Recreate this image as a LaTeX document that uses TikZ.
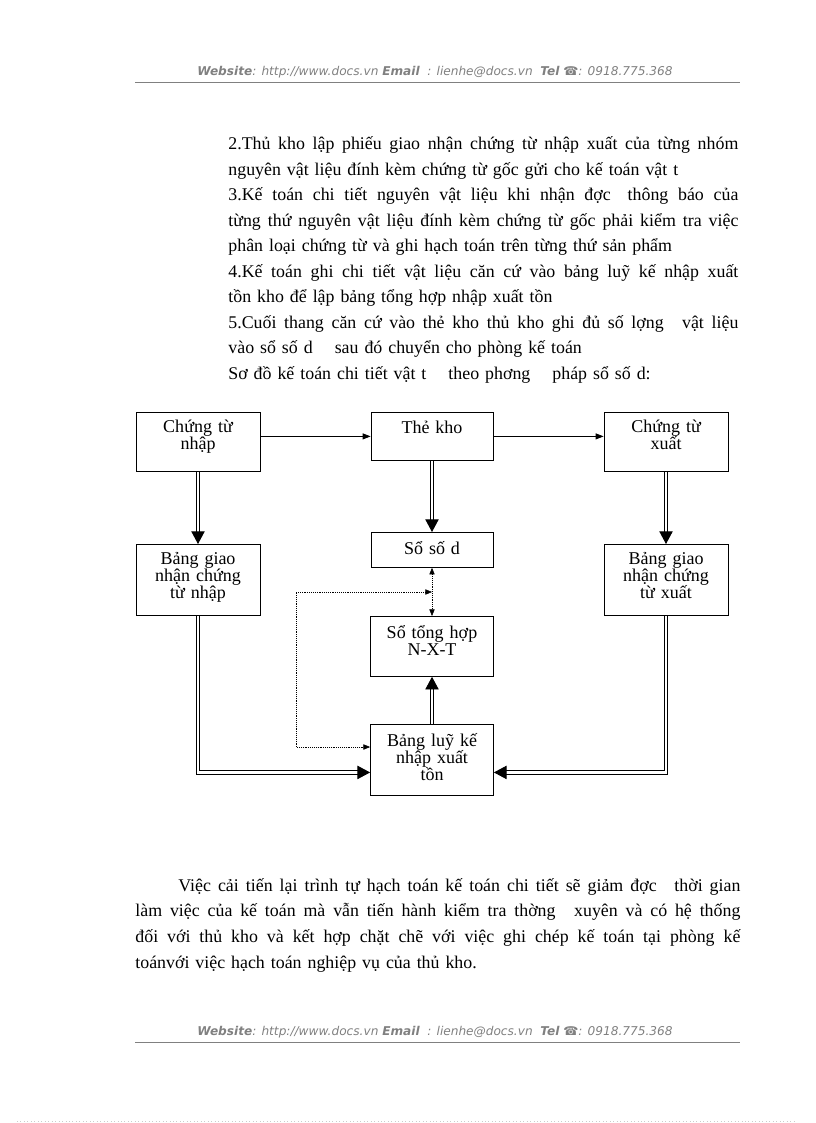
\documentclass[tikz,border=0pt]{standalone}
\usepackage{fontspec}
\setmainfont{Liberation Serif}
\newfontfamily\hdrfont{DejaVu Sans}
\usepackage{tikz}
\usetikzlibrary{arrows.meta}
\tikzstyle{box}  = [draw,semithick,anchor=north,align=center,inner xsep=2pt,inner ysep=0pt,font=\fontsize{13.5}{12.8}\selectfont]
\tikzstyle{dbl}  = [double,double distance=1.8pt,line width=0.7pt,-{Triangle[length=9.5pt,width=10pt]}]
\tikzstyle{dots} = [densely dotted,thin,{Triangle[length=5pt,width=4pt]}-{Triangle[length=5pt,width=4pt]}]
\tikzstyle{para} = [inner sep=0pt,anchor=base west,align=left,font=\fontsize{13.4}{19.1}\selectfont]
\tikzstyle{hdr}  = [inner sep=0pt,text=gray,font=\hdrfont\itshape\fontsize{9.1}{10}\selectfont]
\tikzstyle{rule} = [-,gray,thin]
\newcommand\jl[1]{\leavevmode\hbox to 382.5pt{\spaceskip=.25em plus 1fil\relax#1}}
\newcommand\jlw[2]{\leavevmode\hbox to #1{\spaceskip=.25em plus 1fil\relax#2}}

\begin{document}
\begin{tikzpicture}[x=0.75pt,y=-0.75pt,->,>={Triangle[length=6pt,width=4.5pt]},semithick]
\useasboundingbox (0,0) rectangle (816,1123);

\node[hdr] (head) at (435,72) {\textbf{Website}: http://www.docs.vn \textbf{Email}\ \ : lienhe@docs.vn\ \ \textbf{Tel} ☎: 0918.775.368};
\draw[rule] (135,82) -- (740,82);

\node[para,text width=382.5pt] (P1) at (228,150) {\jl{2.Thủ kho lập phiếu giao nhận chứng từ nhập xuất của từng nhóm}\\
nguyên vật liệu đính kèm chứng từ gốc gửi cho kế toán vật t\\
\jl{3.Kế toán chi tiết nguyên vật liệu khi nhận đợc\hspace{.4em} thông báo của}\\
\jl{từng thứ nguyên vật liệu đính kèm chứng từ gốc phải kiểm tra việc}\\
phân loại chứng từ và ghi hạch toán trên từng thứ sản phẩm\\
\jl{4.Kế toán ghi chi tiết vật liệu căn cứ vào bảng luỹ kế nhập xuất}\\
tồn kho để lập bảng tổng hợp nhập xuất tồn\\
\jl{5.Cuối thang căn cứ vào thẻ kho thủ kho ghi đủ số lợng\hspace{.6em} vật liệu}\\
vào sổ số d\hspace{.9em} sau đó chuyển cho phòng kế toán\\
Sơ đồ kế toán chi tiết vật t\hspace{.9em} theo phơng\hspace{.9em} pháp sổ số d:};

\node[box,text width=89pt,text height=15pt,text depth=29.25pt] (CTN) at (198,412) {Chứng từ\\nhập};
\node[box,text width=87.5pt,text height=15.5pt,text depth=20.5pt] (TK) at (432,412) {Thẻ kho};
\node[box,text width=89pt,text height=15pt,text depth=29.25pt] (CTX) at (666,412) {Chứng từ\\xuất};
\node[box,text width=89pt,text height=15pt,text depth=38.25pt] (BGN) at (198,544) {Bảng giao\\nhận chứng\\từ nhập};
\node[box,text width=87.5pt,text height=16.5pt,text depth=9.75pt] (SSD) at (432,532) {Sổ số d};
\node[box,text width=89pt,text height=15pt,text depth=38.25pt] (BGX) at (666,544) {Bảng giao\\nhận chứng\\từ xuất};
\node[box,text width=88.25pt,text height=16.5pt,text depth=28.5pt] (STH) at (432,616) {Sổ tổng hợp\\N-X-T};
\node[box,text width=88.25pt,text height=16.5pt,text depth=36.75pt] (BLK) at (432,724) {Bảng luỹ kế\\nhập xuất\\tồn};

\coordinate (M) at (432,592);
\coordinate (D) at (296,747);

\draw (CTN.east |- TK.west) -- (TK.west);
\draw (TK.east) -- (TK.east -| CTX.west);
\draw[dbl] (CTN) -- (BGN);
\draw[dbl] (TK) -- (SSD);
\draw[dbl] (CTX) -- (BGX);
\draw[dbl] (BLK) -- (STH);
\draw[dbl] (BGN) |- ([yshift=-9.4pt]BLK.west);
\draw[dbl] (BGX) |- ([yshift=-9.4pt]BLK.east);
\draw[dots] (SSD) -- (STH);
\draw[dots] (M) -| (D) -- (D -| BLK.west);

\node[para,text width=453.75pt,font=\fontsize{13.4}{19.3}\selectfont] (P2) at (135,891) {\hspace*{32.25pt}\jlw{421.5pt}{Việc cải tiến lại trình tự hạch toán kế toán chi tiết sẽ giảm đợc\hspace{.6em} thời gian}\\
\jlw{453.75pt}{làm việc của kế toán mà vẫn tiến hành kiểm tra thờng\hspace{.6em} xuyên và có hệ thống}\\
\jlw{453.75pt}{đối với thủ kho và kết hợp chặt chẽ với việc ghi chép kế toán tại phòng kế}\\
toánvới việc hạch toán nghiệp vụ của thủ kho.};

\node[hdr] (foot) at (435,1032) {\textbf{Website}: http://www.docs.vn \textbf{Email}\ \ : lienhe@docs.vn\ \ \textbf{Tel} ☎: 0918.775.368};
\draw[rule] (135,1042) -- (740,1042);
\draw[-,gray!40,dotted] (17,1121) -- (795,1121);
\end{tikzpicture}
\end{document}
